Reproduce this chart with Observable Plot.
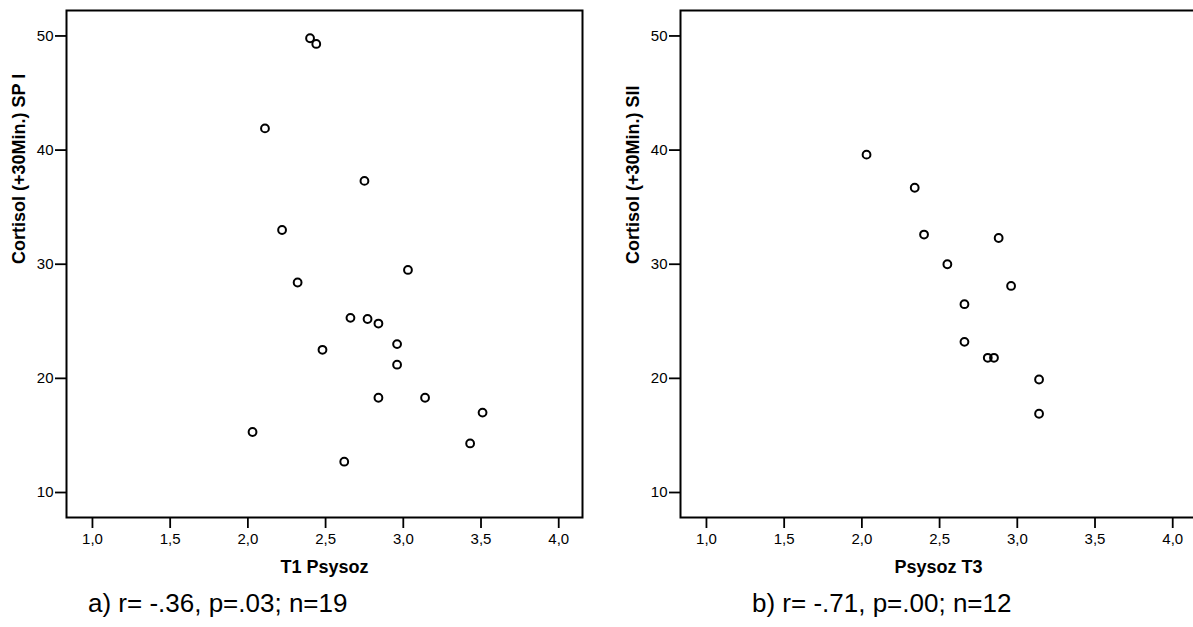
<!DOCTYPE html>
<html>
<head>
<meta charset="utf-8">
<script src="https://cdn.jsdelivr.net/npm/d3@7"></script>
<script src="https://cdn.jsdelivr.net/npm/@observablehq/plot@0.6"></script>
<style>
  html, body { margin: 0; padding: 0; background: #fff; }
  body { width: 1193px; height: 627px; overflow: hidden; position: relative; font-family: "Liberation Sans", Arial, sans-serif; }
  .panel { position: absolute; top: 0; width: 600px; height: 627px; }
  .panel svg { max-width: none !important; }
  .panel [aria-label="x-axis tick label"], .panel [aria-label="y-axis tick label"],
  .panel [aria-label="x-axis tick label"] text, .panel [aria-label="y-axis tick label"] text { font-size: 15px !important; }
  .cap { position: absolute; font-size: 26px; color: #000; white-space: nowrap; line-height: 1; }
</style>
</head>
<body>
<div id="a" class="panel" style="left:0px"></div>
<div id="b" class="panel" style="left:614px"></div>
<div class="cap" style="left:88px; top:590px">a) r= -.36, p=.03; n=19</div>
<div class="cap" style="left:752px; top:590px">b) r= -.71, p=.00; n=12</div>
<script>
// Panel a: T1 Psysoz vs Cortisol (+30Min.) SP I
const psysozT1 = [2.11, 2.22, 2.32, 2.03, 2.40, 2.44, 2.75, 3.03, 2.66, 2.77, 2.84, 2.96, 2.96, 2.48, 2.84, 3.14, 3.51, 3.43, 2.62];
const cortisolSPI = [41.9, 33.0, 28.4, 15.3, 49.8, 49.3, 37.3, 29.5, 25.3, 25.2, 24.8, 23.0, 21.2, 22.5, 18.3, 18.3, 17.0, 14.3, 12.7];

// Panel b: Psysoz T3 vs Cortisol (+30Min.) SII
const psysozT3 = [2.03, 2.34, 2.40, 2.88, 2.55, 2.96, 2.66, 2.66, 2.81, 2.85, 3.14, 3.14];
const cortisolSII = [39.6, 36.7, 32.6, 32.3, 30.0, 28.1, 26.5, 23.2, 21.8, 21.8, 19.9, 16.9];

const xTicks = [1.0, 1.5, 2.0, 2.5, 3.0, 3.5, 4.0];
const yTicks = [10, 20, 30, 40, 50];

function panel(xs, ys, xLabel, yLabel) {
  const data = xs.map((x, i) => ({x, y: ys[i]}));
  return Plot.plot({
    width: 600,
    height: 627,
    marginLeft: 66,
    marginRight: 18,
    marginTop: 10,
    marginBottom: 110,
    style: {fontFamily: '"Liberation Sans", Arial, sans-serif', fontSize: "15px", color: "#000", background: "transparent", overflow: "visible"},
    x: {domain: [0.833, 4.153]},
    y: {domain: [7.81, 52.23]},
    marks: [
      Plot.axisX({ticks: xTicks, tickFormat: d => d.toFixed(1).replace(".", ","), tickSize: 11, tickPadding: 5, strokeWidth: 1.8, fontSize: 15, label: null}),
      Plot.axisY({ticks: yTicks, tickFormat: d => String(d), tickSize: 11, tickPadding: 2, strokeWidth: 1.8, fontSize: 15, label: null}),
      Plot.text([xLabel], {text: d => d, frameAnchor: "bottom", dy: 50, lineAnchor: "middle", fontWeight: "bold", fontSize: 18, fill: "#000"}),
      Plot.text([yLabel], {text: d => d, frameAnchor: "left", dx: -47, rotate: -90, lineAnchor: "middle", fontWeight: "bold", fontSize: 18, fill: "#000"}),
      Plot.frame({stroke: "#000", strokeWidth: 2}),
      Plot.dot(data, {x: "x", y: "y", r: 3.9, stroke: "#000", strokeWidth: 2, fill: "none"})
    ]
  });
}

document.getElementById("a").append(panel(psysozT1, cortisolSPI, "T1 Psysoz", "Cortisol (+30Min.) SP I"));
document.getElementById("b").append(panel(psysozT3, cortisolSII, "Psysoz T3", "Cortisol (+30Min.) SII"));
</script>
</body>
</html>
